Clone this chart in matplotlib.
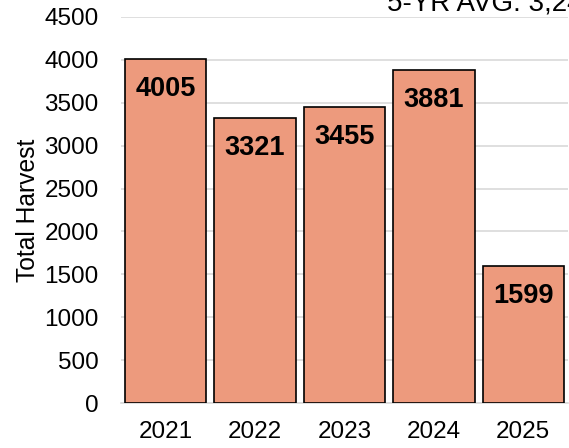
import matplotlib.pyplot as plt

plt.rcParams['font.family'] = ['Liberation Sans', 'DejaVu Sans']

years = ['2021', '2022', '2023', '2024', '2025']
harvest = [4005, 3321, 3455, 3881, 1599]
avg_label = '5-YR AVG: 3,245'

fig = plt.figure(figsize=(5.69, 4.48), dpi=100)
ax = fig.add_axes([121 / 569, 1 - 403 / 448, 447 / 569, 386 / 448])

x = range(len(years))
ax.bar(x, harvest, width=0.91, color='#ED9A7D', edgecolor='black', linewidth=1.2, zorder=3)

for i, v in zip(x, harvest):
    ax.annotate(str(v), (i, v), xytext=(0, -30), textcoords='offset pixels',
                ha='center', va='center', fontsize=19.5, fontweight='bold', zorder=4)

ax.set_xlim(-0.5, 4.5)
ax.set_ylim(0, 4500)
ax.set_yticks(range(0, 4501, 500))
ax.set_xticks(list(x))
ax.set_xticklabels(years)
ax.tick_params(axis='both', length=0, labelsize=17.5)
ax.tick_params(axis='y', pad=16)
ax.tick_params(axis='x', pad=13)
ax.grid(axis='y', color='#d9d9d9', linewidth=1.2, zorder=0)
for s in ['top', 'right', 'left']:
    ax.spines[s].set_visible(False)
ax.spines['bottom'].set_color('#d9d9d9')
ax.spines['bottom'].set_linewidth(1.2)
ax.set_ylabel('Total Harvest', fontsize=17.7, labelpad=3)

fig.text(387 / 569, 1 - 10 / 448, avg_label, fontsize=20, va='baseline', ha='left')

fig.savefig('out.png', dpi=100)
